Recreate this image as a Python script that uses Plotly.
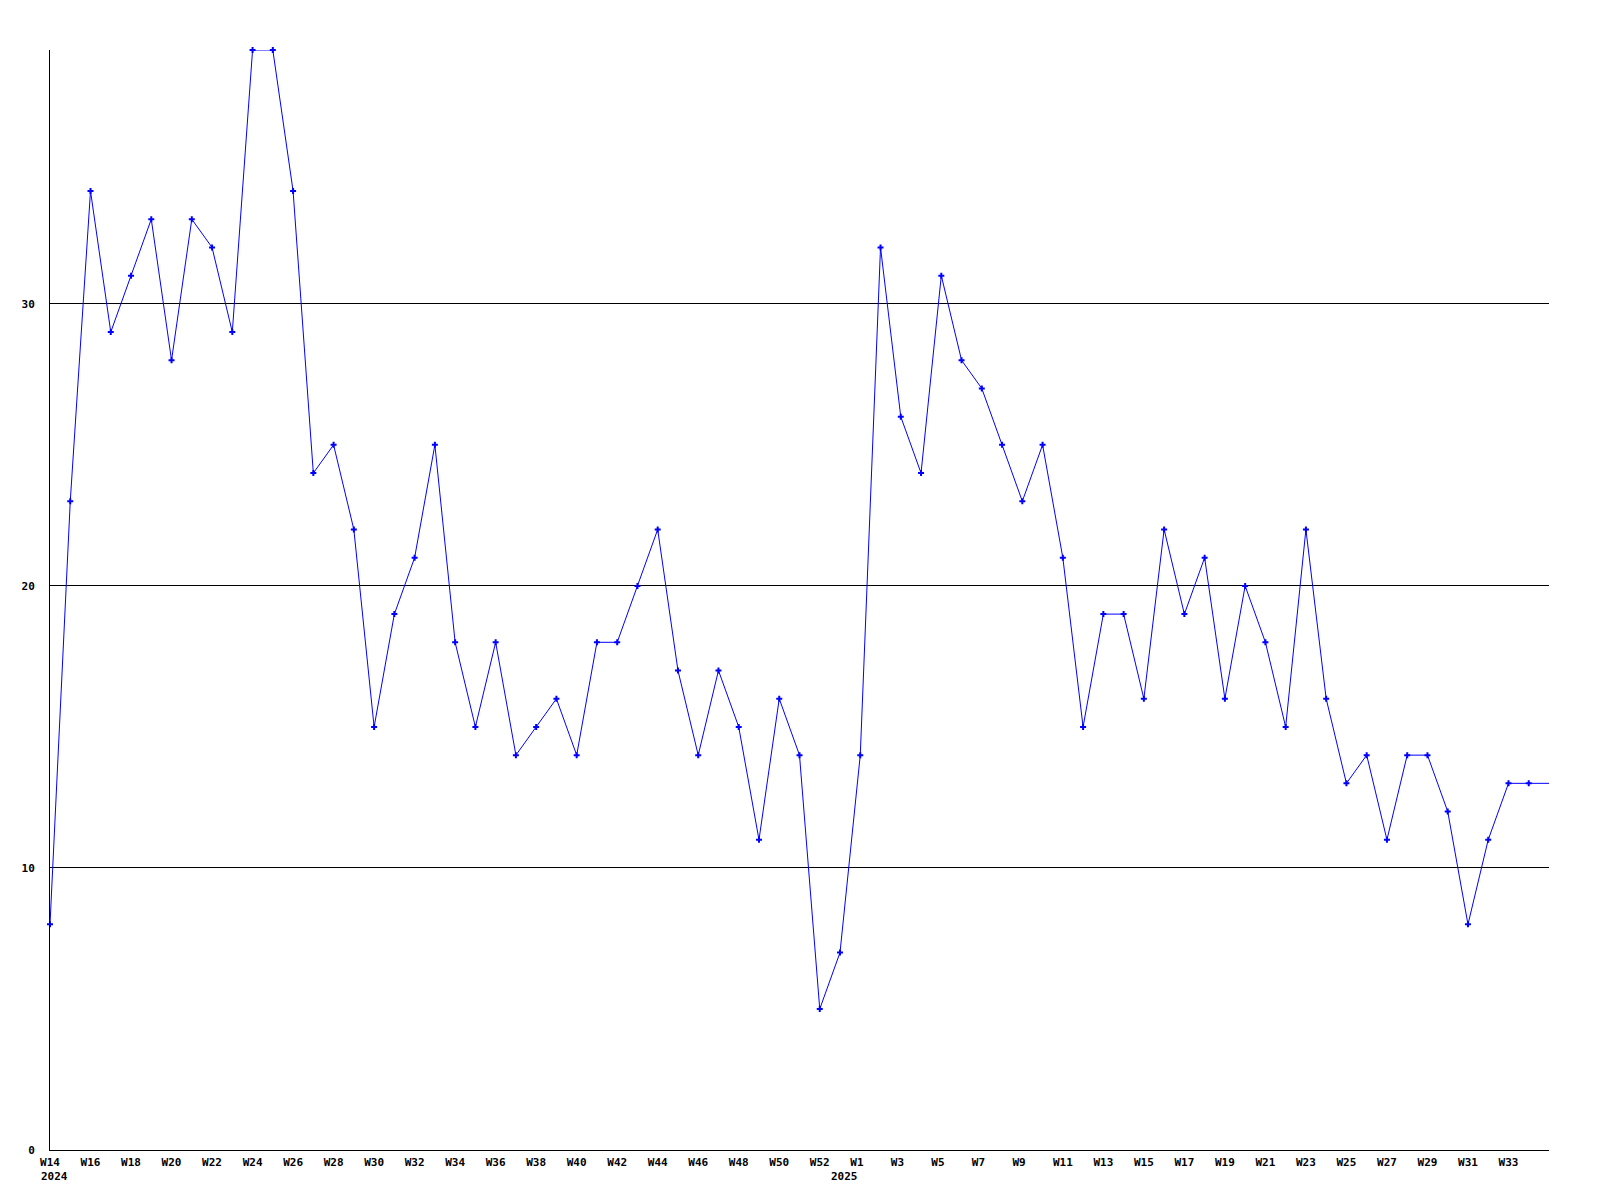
import plotly.graph_objects as go

# Weekly values: 2024 W14 .. W53, then 2025 W1 .. W35
weeks = (["W%d" % w for w in range(14, 54)] + ["W%d" % w for w in range(1, 36)])
values = [8, 23, 34, 29, 31, 33, 28, 33, 32, 29,
          39, 39, 34, 24, 25, 22, 15, 19, 21, 25,
          18, 15, 18, 14, 15, 16, 14, 18, 18, 20,
          22, 17, 14, 17, 15, 11, 16, 14, 5, 7,
          14, 32, 26, 24, 31, 28, 27, 25, 23, 25,
          21, 15, 19, 19, 16, 22, 19, 21, 16, 20,
          18, 15, 22, 16, 13, 14, 11, 14, 14, 12,
          8, 11, 13, 13, 13]

tick_weeks = ["W14", "W16", "W18", "W20", "W22", "W24", "W26", "W28", "W30",
              "W32", "W34", "W36", "W38", "W40", "W42", "W44", "W46", "W48",
              "W50", "W52", "W1", "W3", "W5", "W7", "W9", "W11", "W13", "W15",
              "W17", "W19", "W21", "W23", "W25", "W27", "W29", "W31", "W33"]
year_labels = ["2024", "2025"]
year_weeks = ["W14", "W53"]
y_ticks = [0, 10, 20, 30]

x = list(range(len(values)))

tickvals = []
after = 0
for t in tick_weeks:
    p = weeks.index(t, after)
    tickvals.append(p)
    after = p
ticktext = [t if len(t) == 3 else t + "\u00a0" for t in tick_weeks]

font_family = "DejaVu Sans Mono"

fig = go.Figure()
fig.add_trace(go.Scatter(
    x=x, y=values, mode="lines",
    line=dict(color="#0000ff", width=1),
    cliponaxis=False, hoverinfo="skip",
))
# the final (current, partial) week is drawn as line only
fig.add_trace(go.Scatter(
    x=x[:-1], y=values[:-1], mode="markers",
    marker=dict(symbol="cross", size=5, color="#0000ff", line=dict(width=0)),
    cliponaxis=False, hoverinfo="skip",
))

fig.update_layout(
    width=1600, height=1200,
    margin=dict(l=42, r=59, t=42, b=58),
    paper_bgcolor="white", plot_bgcolor="white",
    showlegend=False,
    font=dict(family=font_family, size=11, color="black"),
    xaxis=dict(
        range=[0, len(values) - 1],
        tickmode="array", tickvals=tickvals, ticktext=ticktext,
        showgrid=False, zeroline=False,
        showline=True, linecolor="black", linewidth=1,
        ticks="", ticklabelstandoff=2,
        tickfont=dict(family=font_family, size=11, color="black", weight="bold"),
    ),
    yaxis=dict(
        range=[0, 39],
        tickmode="array", tickvals=y_ticks, ticktext=[str(v) for v in y_ticks],
        showgrid=True, gridcolor="black", gridwidth=1,
        zeroline=False,
        showline=True, linecolor="black", linewidth=1,
        ticks="", ticklabelstandoff=12,
        tickfont=dict(family=font_family, size=11, color="black", weight="bold"),
    ),
)

for lab, wk in zip(year_labels, year_weeks):
    fig.add_annotation(
        x=weeks.index(wk), y=0, xref="x", yref="paper",
        text="<b>%s</b>" % lab, showarrow=False,
        xanchor="left", yanchor="top", xshift=-11, yshift=-18,
        font=dict(family=font_family, size=11, color="black"),
    )

fig.write_html("out.html")
